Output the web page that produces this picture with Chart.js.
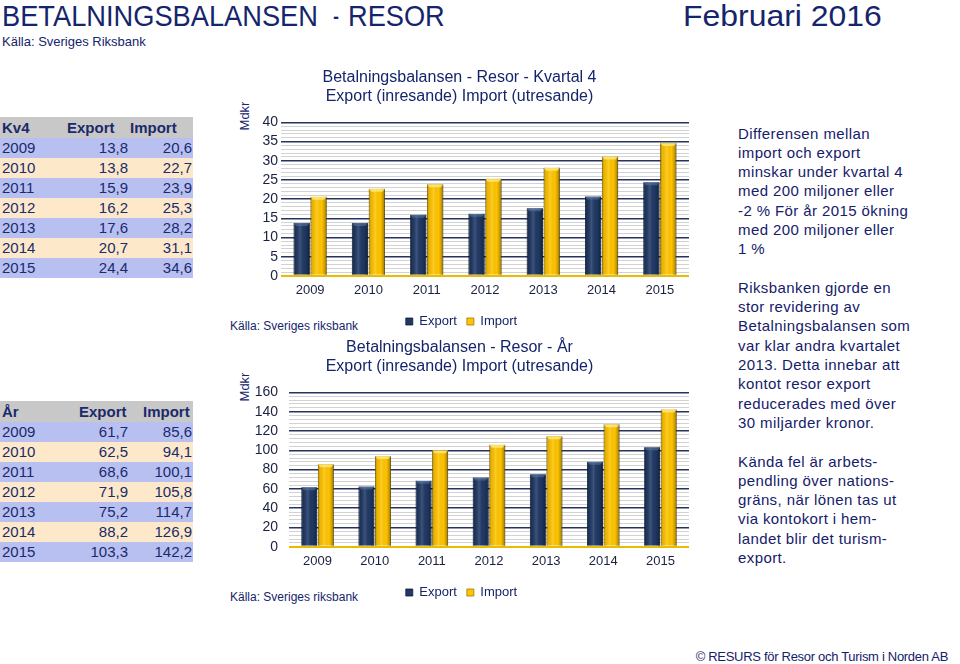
<!DOCTYPE html>
<html><head><meta charset="utf-8">
<script src="https://cdn.jsdelivr.net/npm/chart.js@4/dist/chart.umd.min.js"></script>
<style>
html,body{margin:0;padding:0;background:#fff;}
body{width:960px;height:664px;position:relative;overflow:hidden;font-family:"Liberation Sans",Arial,sans-serif;color:#15256b;}
.abs{position:absolute;white-space:nowrap;}
.big{font-size:30px;line-height:34px;top:-1px;transform-origin:0 0;display:inline-block;}
#src{left:2px;top:34px;font-size:13px;line-height:16px;}
.row{position:absolute;left:0;width:193px;height:20px;font-size:15px;line-height:20px;color:#1b2a6b;}
.row span{position:absolute;top:0;}
.hd{background:#c8c8c8;font-weight:bold;height:21px;line-height:22px;}
.bl{background:#b8c0f2;}
.cr{background:#fde9c9;}
#txt{left:738px;top:123.5px;font-size:15px;line-height:19.3px;letter-spacing:0.4px;color:#15206a;}
.mdkr{font-size:13px;transform:rotate(-90deg);transform-origin:center;width:40px;text-align:center;line-height:14px;color:#15256b;}
.kalla{font-size:12px;color:#15256b;line-height:14px;}
#foot{right:12px;top:649px;font-size:13px;line-height:16px;letter-spacing:-0.3px;color:#15206a;}
.cv{position:absolute;}
</style>
</head><body>
<div class="abs big" style="left:2px" data-w="316">BETALNINGSBALANSEN</div>
<div class="abs big" style="left:333px" data-w="6">-</div>
<div class="abs big" style="left:348px" data-w="97">RESOR</div>
<div class="abs big" style="left:683px" data-w="199">Februari 2016</div>
<div id="src" class="abs">Källa: Sveriges Riksbank</div>

<div id="tables"></div>

<div class="abs mdkr" style="left:225px;top:109px;">Mdkr</div>
<div class="abs mdkr" style="left:225px;top:380px;">Mdkr</div>
<div class="abs kalla" style="left:230px;top:319px;">Källa: Sveriges riksbank</div>
<div class="abs kalla" style="left:230px;top:590px;">Källa: Sveriges riksbank</div>

<div class="cv" style="left:230px;top:60px;"><canvas id="c1" width="460" height="278"></canvas></div>
<div class="cv" style="left:230px;top:330px;"><canvas id="c2" width="460" height="279"></canvas></div>

<div id="txt" class="abs">Differensen mellan<br>import och export<br>minskar under kvartal 4<br>med 200 miljoner eller<br>-2 % För år 2015 ökning<br>med 200 miljoner eller<br>1 %<br><br>Riksbanken gjorde en<br>stor revidering av<br>Betalningsbalansen som<br>var klar andra kvartalet<br>2013. Detta innebar att<br>kontot resor export<br>reducerades med över<br>30 miljarder kronor.<br><br>Kända fel är arbets-<br>pendling över nations-<br>gräns, när lönen tas ut<br>via kontokort i hem-<br>landet blir det turism-<br>export.</div>

<div id="foot" class="abs">© RESURS för Resor och Turism i Norden AB</div>

<script>
// ---- data ----
const years = ["2009","2010","2011","2012","2013","2014","2015"];
const kv4Export = [13.8, 13.8, 15.9, 16.2, 17.6, 20.7, 24.4];
const kv4Import = [20.6, 22.7, 23.9, 25.3, 28.2, 31.1, 34.6];
const arExport = [61.7, 62.5, 68.6, 71.9, 75.2, 88.2, 103.3];
const arImport = [85.6, 94.1, 100.1, 105.8, 114.7, 126.9, 142.2];
const seriesNames = ["Export", "Import"];
const title1 = ["Betalningsbalansen - Resor - Kvartal 4", "Export (inresande) Import (utresande)"];
const title2 = ["Betalningsbalansen - Resor - År", "Export (inresande) Import (utresande)"];

// fit condensed headline words to their widths
document.querySelectorAll('.big').forEach(el => {
  const w = +el.dataset.w;
  el.style.transform = `scaleX(${w / el.offsetWidth})`;
});

// ---- tables ----
const fmt = v => v.toFixed(1).replace('.', ',');
function buildTable(top, firstHead, hx, exp, imp) {
  const root = document.getElementById('tables');
  let html = `<div class="row hd" style="top:${top}px"><span style="left:2px">${firstHead}</span><span style="left:${hx[0]}px">Export</span><span style="left:${hx[1]}px">Import</span></div>`;
  years.forEach((y, i) => {
    const t = top + 21 + i * 20;
    html += `<div class="row ${i % 2 ? 'cr' : 'bl'}" style="top:${t}px"><span style="left:2px">${y}</span><span style="right:65px">${fmt(exp[i])}</span><span style="right:1px">${fmt(imp[i])}</span></div>`;
  });
  root.insertAdjacentHTML('beforeend', html);
}
buildTable(117, 'Kv4', [67, 130], kv4Export, kv4Import);
buildTable(401, 'År', [79, 143], arExport, arImport);

// ---- charts ----
const FONT = '"Liberation Sans", Arial, sans-serif';
const NAVY = '#15256b';

const bevel = {
  id: 'bevel',
  afterLayout(chart) {
    const lg = chart.legend;
    if (lg) { lg.left += 2; lg.right += 2; }
  },
  afterDatasetsDraw(chart) {
    const ctx = chart.ctx;
    chart.data.datasets.forEach((ds, di) => {
      const meta = chart.getDatasetMeta(di);
      meta.data.forEach(bar => {
        const p = bar.getProps(['x', 'y', 'base', 'width'], true);
        const l = p.x - p.width / 2, w = p.width, h = p.base - p.y;
        ctx.save();
        const g = ctx.createLinearGradient(l, 0, l + w, 0);
        g.addColorStop(0, 'rgba(0,0,0,0.30)');
        g.addColorStop(0.14, 'rgba(0,0,0,0.08)');
        g.addColorStop(0.4, 'rgba(255,255,255,0.14)');
        g.addColorStop(0.7, 'rgba(0,0,0,0)');
        g.addColorStop(0.86, 'rgba(0,0,0,0.18)');
        g.addColorStop(1, 'rgba(0,0,0,0.45)');
        ctx.fillStyle = g;
        ctx.fillRect(l, p.y, w, h);
        ctx.fillStyle = ds.capColor;
        ctx.beginPath();
        ctx.moveTo(l, p.y); ctx.lineTo(l + w, p.y);
        ctx.lineTo(l + w - 2.5, p.y + 3); ctx.lineTo(l + 2.5, p.y + 3);
        ctx.closePath(); ctx.fill();
        ctx.restore();
      });
    });
  }
};

function makeChart(id, titleLines, exp, imp, max, step, major, yWidth, yPad) {
  return new Chart(document.getElementById(id), {
    type: 'bar',
    data: {
      labels: years,
      datasets: [
        { label: seriesNames[0], data: exp, backgroundColor: '#1f3864', borderColor: '#0e1c38', borderWidth: 0.8, capColor: 'rgba(90,120,170,0.55)', categoryPercentage: 0.58, barPercentage: 0.96 },
        { label: seriesNames[1], data: imp, backgroundColor: '#ffc400', borderColor: '#a07a00', borderWidth: 0.8, capColor: 'rgba(255,235,120,0.8)', categoryPercentage: 0.58, barPercentage: 0.96 }
      ]
    },
    options: {
      responsive: false,
      devicePixelRatio: 1,
      animation: false,
      layout: { padding: { left: 0, right: 1, top: 0, bottom: 0 } },
      plugins: {
        title: { display: true, text: titleLines, color: NAVY, font: { family: FONT, size: 16, weight: 'normal' }, padding: { top: 8, bottom: 16 } },
        legend: { position: 'bottom', labels: { boxWidth: 7, boxHeight: 7, padding: 10, color: NAVY, font: { family: FONT, size: 13 } } },
        tooltip: { enabled: false }
      },
      scales: {
        x: {
          grid: { display: false, drawTicks: false },
          border: { display: false },
          ticks: { color: '#1a2140', font: { family: FONT, size: 13, lineHeight: 0.55 }, padding: 11 }
        },
        y: {
          min: 0, max: max,
          afterFit: s => { s.width = yWidth; },
          border: { display: false },
          grid: {
            drawTicks: false,
            color: c => c.tick.value === 0 ? '#e8bc00' : (c.tick.value % major === 0 ? '#27345e' : '#d2d2d2'),
            lineWidth: c => c.tick.value === 0 ? 2 : (c.tick.value % major === 0 ? 1.6 : 1)
          },
          ticks: {
            stepSize: step, autoSkip: false, padding: yPad, color: '#1a2140',
            font: { family: FONT, size: 14 },
            callback: v => (v % major === 0 ? v : '')
          }
        }
      }
    },
    plugins: [bevel]
  });
}
makeChart('c1', title1, kv4Export, kv4Import, 40, 1, 5, 51, 3);
makeChart('c2', title2, arExport, arImport, 160, 4, 20, 59, 11);
</script>
</body></html>
